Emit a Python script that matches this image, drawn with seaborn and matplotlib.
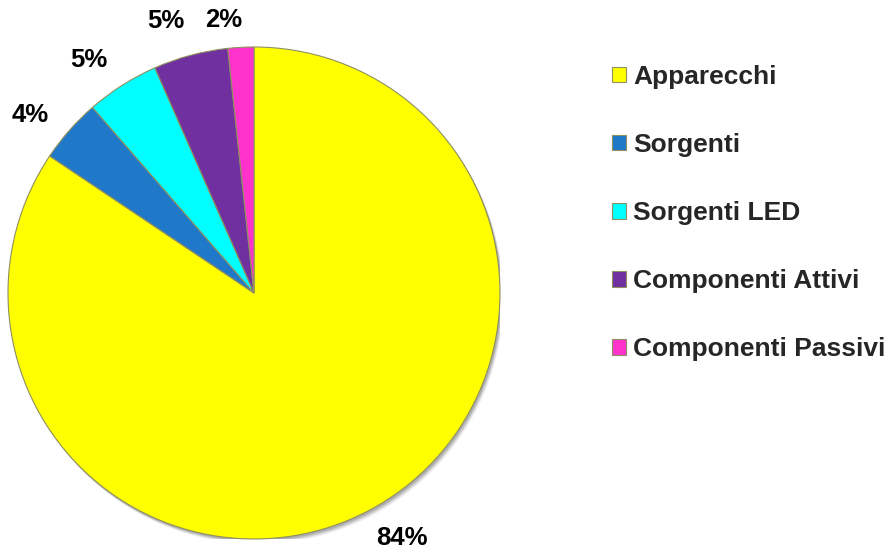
import matplotlib
matplotlib.use("Agg")
import matplotlib.pyplot as plt
from matplotlib.patches import Circle
import numpy as np
import seaborn as sns

categories = ["Apparecchi", "Sorgenti", "Sorgenti LED", "Componenti Attivi", "Componenti Passivi"]
values = [84.4, 4.2, 4.8, 4.9, 1.7]
colors = ["#FFFF00", "#1F78C8", "#00FFFF", "#7030A0", "#FF33CC"]

sns.set_theme(style="white")
plt.rcParams['font.family'] = ['Liberation Sans', 'DejaVu Sans']

W, H = 889, 549
fig = plt.figure(figsize=(W / 100, H / 100), dpi=100)
cx, cy, r = 254, 293, 246
ax = fig.add_axes([(cx - r) / W, (H - cy - r) / H, 2 * r / W, 2 * r / H])

# soft drop shadow under the pie
for k, al in [(5, 0.06), (4, 0.08), (3, 0.10), (2, 0.12)]:
    ax.add_patch(Circle((k * 0.7 / r, -k / r), 1.0, facecolor='black',
                        edgecolor='none', alpha=al, zorder=0))

wedges, texts, autotexts = ax.pie(
    values, colors=colors, startangle=90, counterclock=False,
    autopct='%1.0f%%', pctdistance=1.1,
    wedgeprops=dict(edgecolor="#8f8f60", linewidth=0.8, zorder=2),
    textprops=dict(fontsize=18.5, fontweight='bold', color='black'),
)
ax.set_xlim(-1, 1)
ax.set_ylim(-1, 1)
ax.set_aspect('equal')

# outside-end labels, kept inside the chart area (as the source chart does)
label_dist = 286 / r
ang_shift = 3.0
y_max = (H - 20 - (H - cy)) / r
for w, t in zip(wedges, autotexts):
    mid = np.deg2rad((w.theta1 + w.theta2) / 2 + ang_shift)
    x, y = label_dist * np.cos(mid), label_dist * np.sin(mid)
    y = min(y, y_max)
    t.set_position((x, y))
    t.set_ha('center')
    t.set_va('center')

fig.legend(wedges, categories, loc='upper left',
           bbox_to_anchor=(612 / W, 1 - 65 / H), frameon=False,
           prop=dict(size=19, weight='bold'),
           handlelength=0.53, handleheight=0.53, handletextpad=0.27,
           labelspacing=1.67, borderpad=0, borderaxespad=0)

fig.savefig("out.png", dpi=100)
